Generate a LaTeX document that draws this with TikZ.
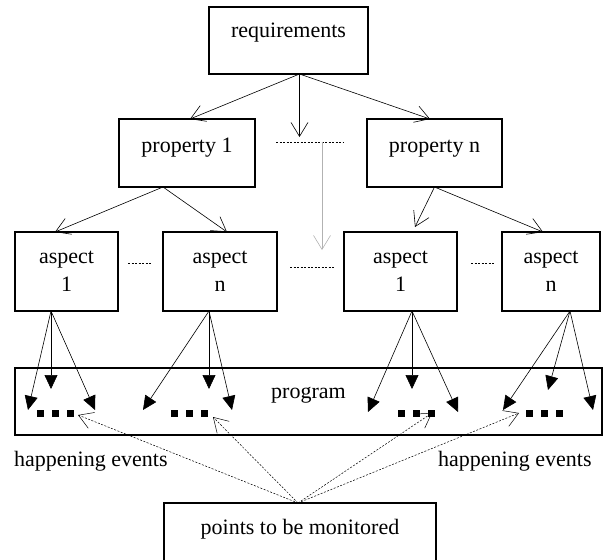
\documentclass[tikz,border=0pt]{standalone}
\usepackage{fontspec}
\setmainfont{Liberation Serif}
\usetikzlibrary{positioning, arrows.meta}

\newcommand{\evdots}{\rule{7pt}{7pt}\hspace{8pt}\rule{7pt}{7pt}\hspace{8pt}\rule{7pt}{7pt}}

\begin{document}
\begin{tikzpicture}[x=1pt, y=-1pt]
    \tikzstyle{txt} = [font=\fontsize{22}{28}\selectfont]
    \tikzstyle{box} = [txt, rectangle, draw=black, line width=1.6pt, outer sep=0pt, align=center, text height=16pt]
    \tikzstyle{asp} = [box, minimum height=79pt, text height=45pt, text depth=6pt]
    \tikzstyle{gap} = [inner sep=0pt, outer sep=0pt, minimum height=0pt]
    \tikzstyle{gapline} = [line width=0.8pt, dash pattern=on 2pt off 1.5pt]
    \tikzstyle{openarr} = [-{Straight Barb[length=14pt,width=17pt]}, line width=0.6pt]
    \tikzstyle{fillarr} = [-{Triangle[length=14pt,width=13pt]}, line width=0.6pt]
    \tikzstyle{monarr} = [openarr, line width=0.5pt, dash pattern=on 2pt off 1.5pt]
    \useasboundingbox (0,0) rectangle (607,559);

    \node (req) [box, minimum width=159pt, minimum height=67pt, text depth=22pt] at (288.5,40.5) {requirements};
    \node (prop1) [box, minimum width=136pt, minimum height=68pt, text depth=18pt] at (187,153) {property 1};
    \node (propn) [box, minimum width=135pt, minimum height=68pt, text depth=18pt, right=112pt of prop1] {property n};

    \node (a1) [asp, minimum width=103pt] at (66.5,271.5) {aspect\\1};
    \node (a2) [asp, minimum width=114pt, right=45pt of a1] {aspect\\n};
    \node (a3) [asp, minimum width=113pt, right=67pt of a2] {aspect\\1};
    \node (a4) [asp, minimum width=98pt, right=45pt of a3] {aspect\\n};

    \node (prog) [box, minimum width=587pt, minimum height=67pt, text depth=23pt] at (308.5,401.5) {program};
    \node (pts) [box, minimum width=272pt, minimum height=67pt, text depth=21pt] at (300,536.5) {points to be monitored};

    \node (hapL) [txt, anchor=base west, inner sep=0pt] at (14,466) {happening events};
    \node (hapR) [txt, anchor=base west, inner sep=0pt] at (438,466) {happening events};

    % the "..." between the boxes
    \node (gapA) [gap, minimum width=68pt] at (310,142) {};
    \node (gapB) [gap, minimum width=45pt] at (312.5,267) {};
    \node (gapC) [gap, minimum width=23pt] at (139.5,263) {};
    \node (gapD) [gap, minimum width=23pt] at (482.5,263) {};
    \foreach \g in {gapA,gapB,gapC,gapD}
        \draw[gapline] (\g.west) -- (\g.east);

    % happening events in the program
    \node (d1) [inner sep=0pt] at (55,413.5) {\evdots};
    \node (d2) [inner sep=0pt] at (189.5,413.5) {\evdots};
    \node (d3) [inner sep=0pt] at (416.5,413.5) {\evdots};
    \node (d4) [inner sep=0pt] at (544,413.5) {\evdots};

    \draw[openarr] ([xshift=11pt]req.south) -- ([xshift=3pt]prop1.north);
    \draw[openarr] ([xshift=11pt]req.south) -- ([xshift=-4.5pt]propn.north);
    \draw[openarr, shorten >=5pt] ([xshift=11pt]req.south) -- ([xshift=11pt]req.south |- gapA.north);
    \draw[openarr, draw=gray!60, shorten >=17pt] ([xshift=12pt]gapA.center) -- ([xshift=12pt]gapA.center |- gapB.north);

    \draw[openarr] ([xshift=-24pt]prop1.south) -- ([xshift=-11.5pt]a1.north);
    \draw[openarr] ([xshift=-24pt]prop1.south) -- ([xshift=7pt]a2.north);
    \draw[openarr] (propn.south) -- ([xshift=14.5pt, yshift=5pt]a3.north);
    \draw[openarr] (propn.south) -- ([xshift=-8pt]a4.north);

    % aspects down to the events
    \coordinate (s1) at ([xshift=-15.5pt]a1.south);
    \coordinate (s2) at ([xshift=-11pt]a2.south);
    \coordinate (s3) at ([xshift=11.5pt]a3.south);
    \coordinate (s4) at ([xshift=19pt]a4.south);
    \foreach \n/\x/\y in {1a/28/410, 1b/51/389, 1c/95/410,
                          2a/143/410, 2b/209/389, 2c/232/410,
                          3a/368/412, 3b/412/389, 3c/458/412,
                          4a/503/410, 4b/548/390, 4c/593/410}
        \coordinate (t\n) at (\x,\y);
    \foreach \i in {1,...,4}
        \foreach \j in {a,b,c}
            \draw[fillarr] (s\i) -- (t\i\j);

    % monitored points
    \coordinate (pout) at ([xshift=-2pt]pts.north);
    \coordinate (m1) at (78,415);
    \coordinate (m2) at (213,417);
    \coordinate (m3) at (432,413);
    \coordinate (m4) at (519,413);
    \foreach \j in {1,...,4}
        \draw[monarr] (pout) -- (m\j);
\end{tikzpicture}
\end{document}
